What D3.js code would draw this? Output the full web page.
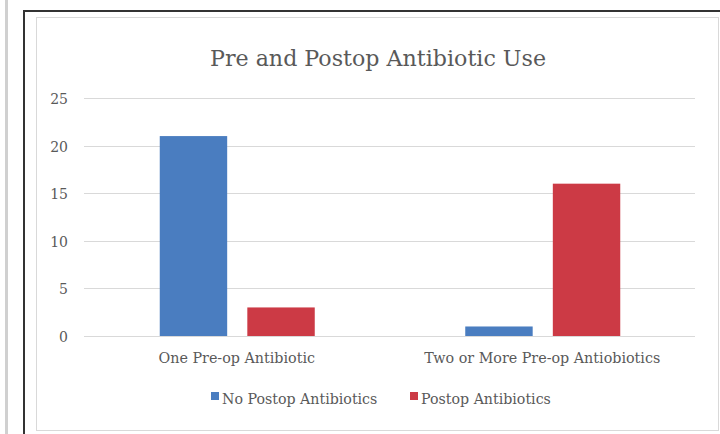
<!DOCTYPE html>
<html>
<head>
<meta charset="utf-8">
<script src="https://cdn.jsdelivr.net/npm/d3@7"></script>
<style>
  html, body { margin: 0; padding: 0; background: #fff; }
  svg { display: block; }
  text { font-family: "DejaVu Serif", "Liberation Serif", serif; fill: #595959; }
</style>
</head>
<body>
<svg id="chart" width="720" height="434"></svg>
<script>
const categories = ["One Pre-op Antibiotic", "Two or More Pre-op Antiobiotics"];
const seriesNames = ["No Postop Antibiotics", "Postop Antibiotics"];
const noPostop = [21, 1];
const postop = [3, 16];
const yTicks = [0, 5, 10, 15, 20, 25];
const colors = ["#4a7dc0", "#cc3a45"];
const title = "Pre and Postop Antibiotic Use";

const svg = d3.select("#chart");

// page gutter and frames
svg.append("rect").attr("x", 5).attr("y", 0).attr("width", 3).attr("height", 434).attr("fill", "#d0d0d0");
svg.append("rect").attr("x", 24).attr("y", 11).attr("width", 720).attr("height", 440)
  .attr("fill", "#fff").attr("stroke", "#333").attr("stroke-width", 2);
svg.append("rect").attr("x", 36.5).attr("y", 17.5).attr("width", 682).attr("height", 413)
  .attr("fill", "none").attr("stroke", "#d9d9d9").attr("stroke-width", 1);

const margin = { left: 84, right: 695, top: 98, bottom: 336 };

const x0 = d3.scaleBand().domain(categories).range([margin.left, margin.right]);
const x1 = d3.scaleBand().domain(seriesNames).range([0, 155]).paddingInner(0.23);
const y = d3.scaleLinear().domain([0, 25]).range([margin.bottom, margin.top]);

// gridlines
svg.append("g").selectAll("line").data(yTicks).join("line")
  .attr("x1", margin.left).attr("x2", margin.right)
  .attr("y1", d => Math.round(y(d)) + 0.5).attr("y2", d => Math.round(y(d)) + 0.5)
  .attr("stroke", "#d9d9d9").attr("stroke-width", 1.2);

// y tick labels
svg.append("g").selectAll("text").data(yTicks).join("text")
  .attr("x", 68).attr("y", d => y(d) + 6)
  .attr("text-anchor", "end").attr("font-size", 14)
  .text(d => d);

// bars
const rows = categories.map((c, i) => ({ cat: c, values: [noPostop[i], postop[i]] }));
const groups = svg.append("g").selectAll("g").data(rows).join("g")
  .attr("transform", d => `translate(${x0(d.cat) + x0.bandwidth() / 2 - 77},0)`);
groups.selectAll("rect").data(d => d.values.map((v, j) => ({ s: seriesNames[j], v, j })))
  .join("rect")
  .attr("x", d => x1(d.s)).attr("width", x1.bandwidth())
  .attr("y", d => y(d.v)).attr("height", d => y(0) - y(d.v))
  .attr("fill", d => colors[d.j]);

// category labels
svg.append("g").selectAll("text").data(categories).join("text")
  .attr("x", d => x0(d) + x0.bandwidth() / 2).attr("y", 363)
  .attr("text-anchor", "middle").attr("font-size", 14.3)
  .text(d => d);

// title
svg.append("text").attr("x", 378).attr("y", 66)
  .attr("text-anchor", "middle").attr("font-size", 23)
  .attr("textLength", 336).attr("lengthAdjust", "spacingAndGlyphs")
  .text(title);

// legend
const legendX = [211, 410];
const lg = svg.append("g").selectAll("g").data(seriesNames).join("g")
  .attr("transform", (d, i) => `translate(${legendX[i]},399)`);
lg.append("rect").attr("x", 0).attr("y", -7).attr("width", 8).attr("height", 8)
  .attr("fill", (d, i) => colors[i]);
lg.append("text").attr("x", 11).attr("y", 5).attr("font-size", 14.2).text(d => d);
</script>
</body>
</html>
